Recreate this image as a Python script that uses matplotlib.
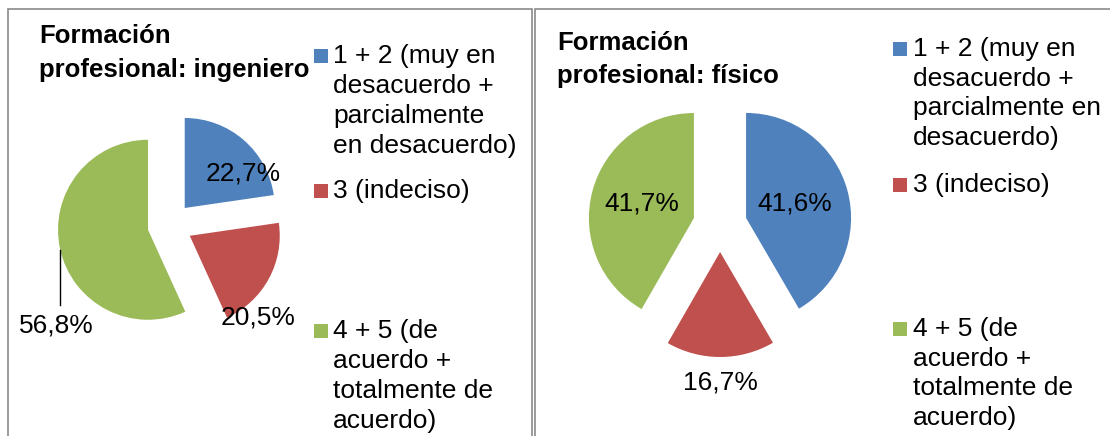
import matplotlib
matplotlib.use('Agg')
import matplotlib.pyplot as plt
from matplotlib.patches import Rectangle

plt.rcParams['font.family'] = ['Liberation Sans', 'DejaVu Sans']

# data
titles = ['Formación\nprofesional: ingeniero', 'Formación\nprofesional: físico']
values_ingeniero = [22.7, 20.5, 56.8]
values_fisico = [41.6, 16.7, 41.7]
legend_ingeniero = ['1 + 2 (muy en\ndesacuerdo +\nparcialmente\nen desacuerdo)',
                    '3 (indeciso)',
                    '4 + 5 (de\nacuerdo +\ntotalmente de\nacuerdo)']
legend_fisico = ['1 + 2 (muy en\ndesacuerdo +\nparcialmente en\ndesacuerdo)',
                 '3 (indeciso)',
                 '4 + 5 (de\nacuerdo +\ntotalmente de\nacuerdo)']
colors = ['#4F81BD', '#C0504D', '#9BBB59']

W, H = 1110, 436
FS = 19


def py(y):
    return H - y


def pct(p):
    return ('%.1f%%' % p).replace('.', ',')


fig = plt.figure(figsize=(W / 100, H / 100), dpi=100)
ax = fig.add_axes([0, 0, 1, 1])

panels = [
    dict(values=values_ingeniero, legend=legend_ingeniero, title=titles[0],
         center=(170, 225), radius=90, explode=22.5,
         label_pos=[(243, 173), (258, 318), (56, 325)],
         title_xy=(39, 43, 34),
         marker_x=314, text_x=333, baselines=[63, 198, 338], lh=30),
    dict(values=values_fisico, legend=legend_fisico, title=titles[1],
         center=(720, 225), radius=105, explode=27,
         label_pos=[(795, 203), (720, 382), (642, 203)],
         title_xy=(557, 50, 33),
         marker_x=893, text_x=913, baselines=[56, 192, 336], lh=29.5),
]

for p in panels:
    cx, cy = p['center']
    wedges, texts, autotexts = ax.pie(
        p['values'], colors=colors, startangle=90, counterclock=False,
        explode=[p['explode']] * len(p['values']),
        center=(cx, py(cy)), radius=p['radius'],
        autopct=pct, textprops=dict(fontsize=FS, color='black'))
    for t, (lx, ly) in zip(autotexts, p['label_pos']):
        t.set_position((lx, py(ly)))
        t.set_ha('center')
        t.set_va('center')

    tx, ty, tl = p['title_xy']
    for i, line in enumerate(p['title'].split('\n')):
        ax.text(tx, py(ty + i * tl), line, fontsize=18.5, fontweight='bold',
                ha='left', va='baseline')

    for color, label, base in zip(colors, p['legend'], p['baselines']):
        ax.add_patch(Rectangle((p['marker_x'], py(base)), 14, 14,
                               facecolor=color, edgecolor='none'))
        for i, line in enumerate(label.split('\n')):
            ax.text(p['text_x'], py(base + i * p['lh']), line, fontsize=FS,
                    ha='left', va='baseline')

# leader line for 56,8%
ax.plot([60, 60], [py(250), py(305)], color='black', lw=1)

# panel borders
ax.add_patch(Rectangle((7.5, -10), 524, py(9.5) + 10, facecolor='none',
                       edgecolor='#8a8a8a', lw=1.2))
ax.add_patch(Rectangle((535, -10), 600, py(9.5) + 10, facecolor='none',
                       edgecolor='#8a8a8a', lw=1.2))

ax.set_xlim(0, W)
ax.set_ylim(0, H)
ax.set_aspect('auto')
ax.axis('off')

fig.savefig('out.png', dpi=100)
